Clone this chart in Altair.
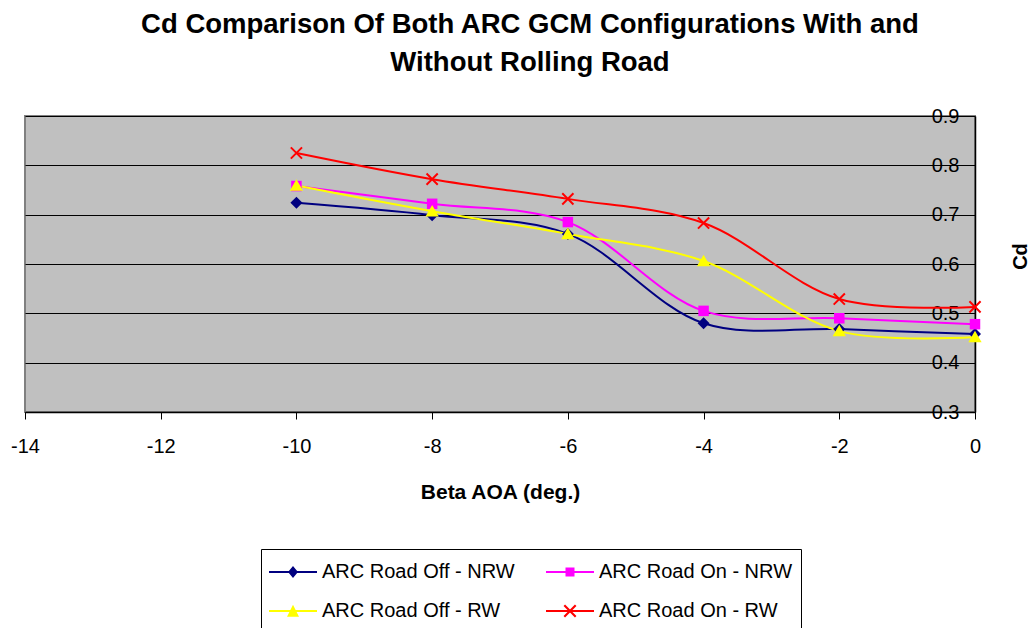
import altair as alt
import pandas as pd

# ---- data ----
beta = [-10, -8, -6, -4, -2, 0]
series_names = [
    "ARC Road Off - NRW",
    "ARC Road On - NRW",
    "ARC Road Off - RW",
    "ARC Road On - RW",
]
# legend sort keys (legend entries fill column by column)
series_keys = ["a", "c", "b", "d"]
road_off_nrw = [0.724, 0.699, 0.661, 0.480, 0.468, 0.458]
road_on_nrw = [0.758, 0.722, 0.685, 0.505, 0.490, 0.478]
road_off_rw = [0.759, 0.707, 0.661, 0.606, 0.464, 0.452]
road_on_rw = [0.825, 0.772, 0.732, 0.683, 0.529, 0.513]
series_values = [road_off_nrw, road_on_nrw, road_off_rw, road_on_rw]
colors = ["#000080", "#FF00FF", "#FFFF00", "#FF0000"]
x_ticks = [-14, -12, -10, -8, -6, -4, -2, 0]
y_ticks = [0.3, 0.4, 0.5, 0.6, 0.7, 0.8, 0.9]

rows = []
for key, name, vals in zip(series_keys, series_names, series_values):
    for b, v in zip(beta, vals):
        rows.append({"key": key, "series": name, "beta": b, "cd": v})
df = pd.DataFrame(rows)

# marker shapes (unit box paths)
diamond = "M0,-0.86L0.86,0L0,0.86L-0.86,0Z"
square = "M-0.75,-0.75H0.75V0.75H-0.75Z"
triangle = "M0,-0.9L0.95,0.75L-0.95,0.75Z"
xmark = ("M-0.7,-0.9L0.9,0.7L0.7,0.9L-0.9,-0.7Z"
         "M-0.9,0.7L0.7,-0.9L0.9,-0.7L-0.7,0.9Z")
marker_shapes = [diamond, square, triangle, xmark]

# legend symbols: line with marker
leg_line = "M-1,-0.067H2.2V0.067H-1Z"
leg_shapes = [
    leg_line + "M0.6,-0.4L0.93,0L0.6,0.4L0.27,0Z",
    leg_line + "M0.3,-0.3H0.9V0.3H0.3Z",
    leg_line + "M0.6,-0.42L1.0,0.38L0.2,0.38Z",
    leg_line + "M0.27,-0.43L1.03,0.33L0.93,0.43L0.17,-0.33Z"
               "M0.17,0.33L0.93,-0.43L1.03,-0.33L0.27,0.43Z",
]

# scale domains in key order (so the legend reads row by row)
order = sorted(range(len(series_keys)), key=lambda i: series_keys[i])
dom = [series_keys[i] for i in order]
col_range = [colors[i] for i in order]
mark_range = [marker_shapes[i] for i in order]
leg_range = [leg_shapes[i] for i in order]

FONT = "Liberation Sans"

label_expr = ""
for k, n in zip(series_keys, series_names):
    label_expr += f"datum.label == '{k}' ? '{n}' : "
label_expr += "datum.label"

X = alt.X(
    "beta:Q",
    scale=alt.Scale(domain=[-14, 0], nice=False, zero=False),
    axis=alt.Axis(
        values=x_ticks, grid=False, domainColor="black", domainWidth=1.5,
        tickColor="black", tickSize=7, tickWidth=1,
        labelExpr="'' + datum.value",
        labelFontSize=20, labelFont=FONT, labelColor="black",
        labelBaseline="alphabetic", labelPadding=33,
        labelFlush=False, labelOverlap=False,
        title="Beta AOA (deg.)", titleFont=FONT, titleFontSize=21,
        titleFontWeight="bold", titleColor="black",
        titleX=475, titleY=86, titleBaseline="alphabetic", titleAlign="center",
    ),
)
Y = alt.Y(
    "cd:Q",
    scale=alt.Scale(domain=[0.3, 0.9], nice=False, zero=False),
    axis=alt.Axis(
        orient="right", values=y_ticks, format=".1f",
        grid=True, gridColor="black", gridWidth=1,
        ticks=False, tickSize=0, domainColor="black", domainWidth=1.5,
        labelAlign="right", labelBaseline="middle", labelPadding=-16,
        labelFontSize=20, labelFont=FONT, labelColor="black",
        labelFlush=False, labelOverlap=False,
        title="Cd", titleFont=FONT, titleFontSize=20, titleFontWeight="bold",
        titleColor="black", titleAngle=270, titleX=45, titleY=140,
        titleAlign="center", titleBaseline="middle",
    ),
)

color_scale = alt.Scale(domain=dom, range=col_range)

base = alt.Chart(df).encode(x=X, y=Y)

lines = base.mark_line(interpolate="catmull-rom", strokeWidth=2).encode(
    color=alt.Color("key:N", scale=color_scale, legend=None),
    detail="key:N",
)

points = base.mark_point(filled=True, size=196, opacity=1).encode(
    color=alt.Color("key:N", scale=color_scale, legend=None),
    shape=alt.Shape("key:N",
                    scale=alt.Scale(domain=dom, range=mark_range),
                    legend=None),
)

legend = alt.Legend(
    orient="none", legendX=236, legendY=433, columns=2,
    columnPadding=31, rowPadding=14, padding=8,
    strokeColor="black", fillColor="white",
    symbolSize=900, symbolStrokeWidth=0, symbolOpacity=1,
    labelOffset=23, labelFontSize=20, labelFont=FONT, labelColor="black",
    labelLimit=400, title=None, labelExpr=label_expr,
)

dummy = base.mark_point(filled=True, opacity=0, size=10).encode(
    color=alt.Color("key:N", scale=color_scale, legend=legend),
    shape=alt.Shape("key:N",
                    scale=alt.Scale(domain=dom, range=leg_range),
                    legend=legend),
)

chart = (
    alt.layer(lines, points, dummy)
    .resolve_scale(color="independent", shape="independent")
    .properties(
        width=950,
        height=296,
        autosize=alt.AutoSizeParams(type="none"),
        padding={"left": 25, "top": 116, "right": 58, "bottom": 216},
        background="white",
        title=alt.TitleParams(
            text=["Cd Comparison Of Both ARC GCM Configurations With and",
                  "Without Rolling Road"],
            font=FONT, fontSize=27.5, fontWeight="bold", color="black",
            anchor="middle", frame="group", dx=30, offset=30, lineHeight=38,
        ),
    )
    .configure_view(fill="#C0C0C0", stroke="#808080", strokeWidth=2)
)

chart.save("out.html", embed_options={"renderer": "svg", "actions": False})
